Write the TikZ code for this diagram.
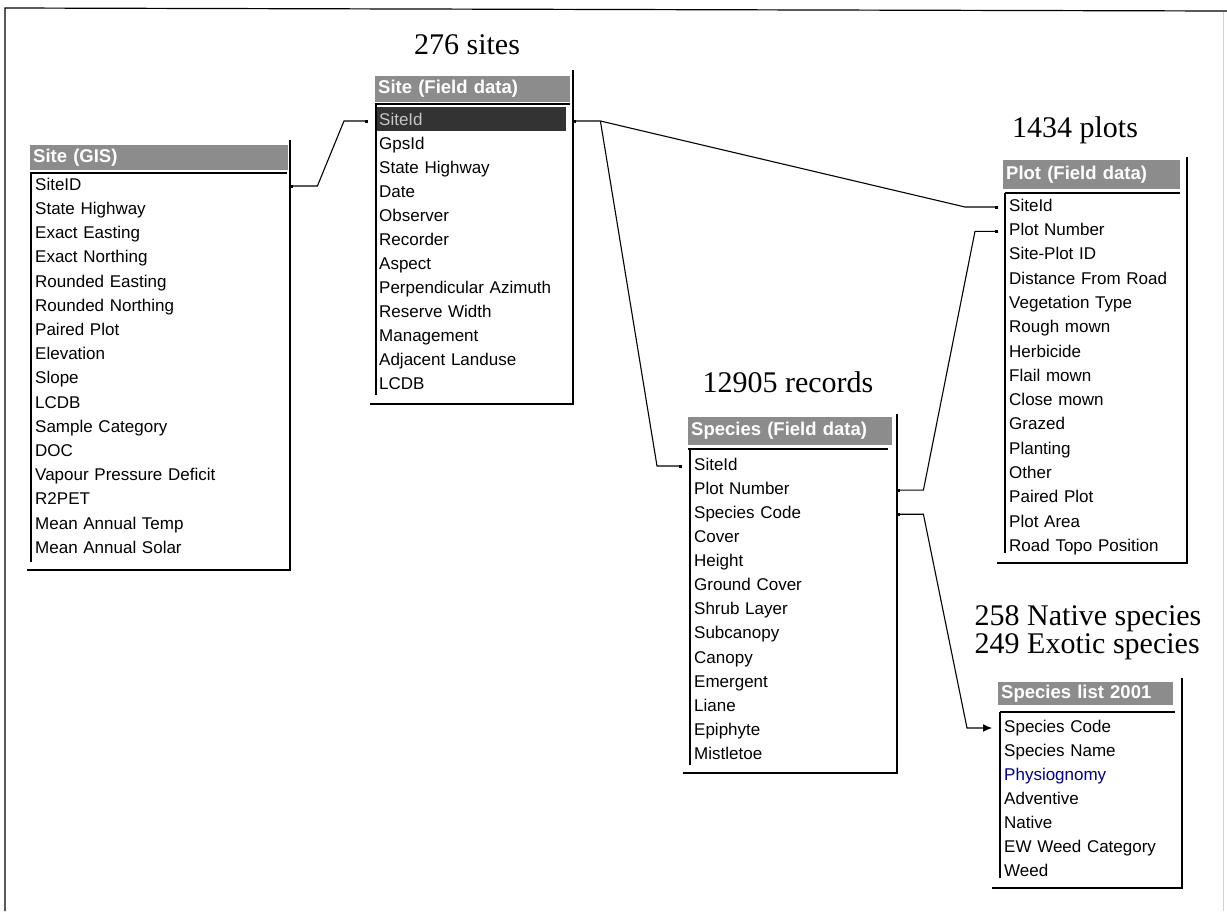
\documentclass[tikz,border=0pt]{standalone}
\usepackage{fontspec}
\setmainfont{Liberation Serif}
\setsansfont{Liberation Sans}
\usetikzlibrary{arrows.meta,calc}
\definecolor{hdrgray}{gray}{0.55}
\definecolor{selgray}{gray}{0.2}
\tikzset{
  hdr/.style 2 args={anchor=north west,fill=hdrgray,text=white,inner xsep=3pt,inner ysep=0pt,
    text width=#1,minimum height=#2,align=left,font=\fontsize{18.5}{20}\sffamily\bfseries},
  entry/.style={anchor=west,inner sep=0pt,text width=#1,align=left,
    font=\fontsize{17}{20}\sffamily,text height=12.5pt,text depth=4pt},
  title/.style={inner sep=0pt,align=left,font=\fontsize{30}{28}\selectfont},
  box/.style={line width=1.2pt},
  rel/.style={line width=1.1pt},
  ends/.style={{Square[length=3pt]}-{Square[length=3pt]}},
}
\begin{document}
\begin{tikzpicture}[x=1pt,y=-1pt]
\useasboundingbox (0,0) rectangle (1227,911);
\draw[box] (5,911) -- (5,8) -- (1227,11);
\draw[gray!35] (1223,12) -- (1223,911);
\node[title] (t276) at (467,45) {276 sites};
\node[title] (t1434) at (1075,130) {1434 plots};
\node[title] (t12905) at (788,382) {12905 records};
\node[title] (tspec) at (1088,633) {258 Native species\\249 Exotic species};
% Site (GIS)
\node[hdr={252pt}{25pt}] (gis) at (30,145) {Site (GIS)};
\foreach \f [count=\i] in {SiteID,State Highway,Exact Easting,Exact Northing,Rounded Easting,
    Rounded Northing,Paired Plot,Elevation,Slope,LCDB,Sample Category,DOC,
    Vapour Pressure Deficit,R2PET,Mean Annual Temp,Mean Annual Solar}{
    \node[entry=255pt] (gis-\i) at (35,161.8+24.2*\i) {\f};
    }
\draw[box,line width=2pt] (30,173) -- (287,173);
\draw[box] (31,173) -- (31,562);
\draw[box] (290,140) -- (290,570) -- (27,570);
% Site (Field data)
\node[hdr={189pt}{26pt}] (fld) at (375,76) {Site (Field data)};
\draw[box,line width=2pt] (375,104) -- (570,104);
\fill[selgray] (377,107) rectangle (566,131);
\node[entry=194pt,text=gray!45] (fld-1) at (379,121) {SiteId};
\foreach \f [count=\i from 2] in {GpsId,State Highway,Date,Observer,Recorder,Aspect,
    Perpendicular Azimuth,Reserve Width,Management,Adjacent Landuse,LCDB}{
    \node[entry=194pt] (fld-\i) at (379,97+24*\i) {\f};
    }
\draw[box] (376,104) -- (376,395);
\draw[box] (573,70) -- (573,404) -- (370,404);
% Species (Field data)
\node[hdr={198pt}{28pt}] (spc) at (688,417) {Species (Field data)};
\foreach \f [count=\i] in {SiteId,Plot Number,Species Code,Cover,Height,Ground Cover,
    Shrub Layer,Subcanopy,Canopy,Emergent,Liane,Epiphyte,Mistletoe}{
    \node[entry=203pt] (spc-\i) at (694,441.9+24.1*\i) {\f};
    }
\draw[box,line width=2pt] (688,449) -- (888,449);
\draw[box] (690,449) -- (690,765);
\draw[box] (897,414) -- (897,773) -- (683,773);
% Plot (Field data)
\node[hdr={171pt}{29pt}] (plot) at (1003,160) {Plot (Field data)};
\foreach \f [count=\i] in {SiteId,Plot Number,Site-Plot ID,Distance From Road,Vegetation Type,
    Rough mown,Herbicide,Flail mown,Close mown,Grazed,Planting,Other,Paired Plot,
    Plot Area,Road Topo Position}{
    \node[entry=178pt] (plot-\i) at (1009,182.7+24.3*\i) {\f};
    }
\draw[box,line width=2pt] (1005,193) -- (1180,193);
\draw[box] (1005,193) -- (1005,553);
\draw[box] (1187,157) -- (1187,563) -- (997,563);
% Species list 2001
\node[hdr={169pt}{23pt}] (lst) at (998,682) {Species list 2001};
\foreach \f/\c [count=\i] in {Species Code/black,Species Name/black,Physiognomy/blue!45!black,
    Adventive/black,Native/black,EW Weed Category/black,Weed/black}{
    \node[entry=178pt,text=\c] (lst-\i) at (1004,704+24*\i) {\f};
    }
\draw[box,line width=2pt] (1000,712) -- (1175,712);
\draw[box] (1000,712) -- (1000,878);
\draw[box] (1182,678) -- (1182,888) -- (992,888);
% relationships
\coordinate (jn) at ($(fld-1.east)+(27,0)$);
\draw[rel,ends] (gis-1.east) -- ++(27,0) -- ($(fld-1.west)+(-35,0)$) -- ($(fld-1.west)+(-11,0)$);
\draw[rel,ends] (fld-1.east) -- (jn) -- ($(plot-1.west)+(-44,0)$) -- ($(plot-1.west)+(-11,0)$);
\draw[rel,-{Square[length=3pt]}] (jn) -- ($(spc-1.west)+(-37,0)$) -- ($(spc-1.west)+(-12,0)$);
\draw[rel,ends] (spc-2.east) -- ++(26,0) -- ($(plot-2.west)+(-34,0)$) -- ($(plot-2.west)+(-11,0)$);
\draw[rel,{Square[length=3pt]}-{Latex[length=9pt,width=8pt]}] (spc-3.east) -- ++(26,0)
    -- ($(lst-1.west)+(-37,0)$) -- ($(lst-1.west)+(-12,0)$);
\end{tikzpicture}
\end{document}
